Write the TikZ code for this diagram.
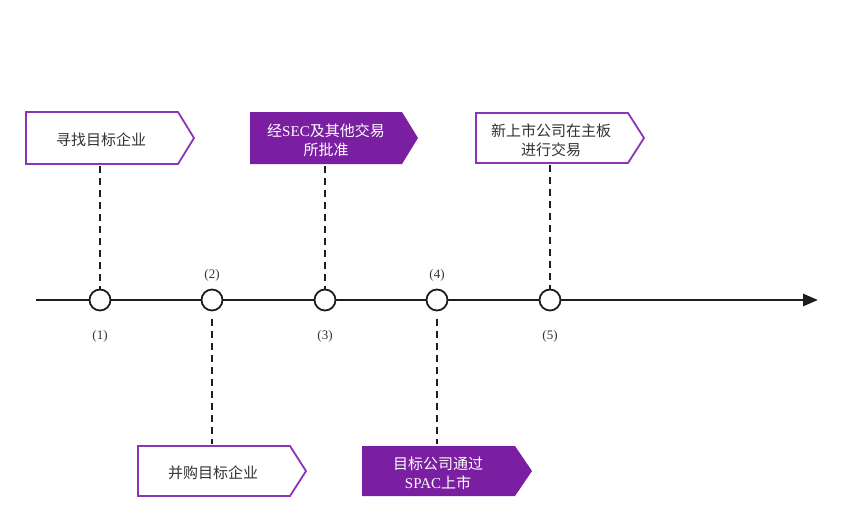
\documentclass[tikz,border=0pt]{standalone}
\usepackage{fontspec}
\setmainfont{Liberation Serif}
\newfontfamily\cjk{Noto Sans CJK SC}
\usetikzlibrary{arrows.meta}
\definecolor{vio}{HTML}{7B1FA2}
\definecolor{violine}{HTML}{8A35B5}
\definecolor{txt}{HTML}{333333}
\definecolor{ink}{HTML}{1E1E1E}
\begin{document}
\begin{tikzpicture}[x=1pt,y=-1pt,
  axisline/.style={line width=2.8pt,draw=ink},
  dot/.style={circle,draw=ink,line width=1.8pt,fill=white,minimum size=21pt,inner sep=0pt},
  guide/.style={line width=1.8pt,dash pattern=on 7pt off 5pt,draw=ink},
  numlbl/.style={font=\fontsize{13}{15}\selectfont,text=txt},
  boxtxt/.style={font=\fontsize{15}{19}\selectfont,align=center}
]
\useasboundingbox (0,0) rectangle (850,523);
% axis
\coordinate (as) at (36,300);
\coordinate (ae) at (818,300);
\draw[axisline,-{Triangle[length=15pt,width=12pt]}] (as) -- (ae);
% dots
\foreach \n/\x in {1/100,2/212,3/325,4/437,5/550}{
  \node[dot] (d\n) at (\x,300) {};
}
\node[numlbl] (l1) at (100,336) {(1)};
\node[numlbl] (l2) at (212,275) {(2)};
\node[numlbl] (l3) at (325,336) {(3)};
\node[numlbl] (l4) at (437,275) {(4)};
\node[numlbl] (l5) at (550,336) {(5)};
% box 1
\draw[violine,line width=1.8pt,fill=white] (26,112) -- (178,112) -- (194,138) -- (178,164) -- (26,164) -- cycle;
\node[boxtxt,text=txt] (b1) at (101,140) {\cjk 寻找目标企业};
% box 2
\fill[vio] (250,112) -- (402,112) -- (418,138) -- (402,164) -- (250,164) -- cycle;
\node[boxtxt,text=white] (b2) at (326,140) {{\cjk 经}SEC{\cjk 及其他交易}\\{\cjk 所批准}};
% box 3
\draw[violine,line width=1.8pt,fill=white] (476,113) -- (628,113) -- (644,138) -- (628,163) -- (476,163) -- cycle;
\node[boxtxt,text=txt] (b3) at (551,140) {{\cjk 新上市公司在主板}\\{\cjk 进行交易}};
% box 4
\draw[violine,line width=1.8pt,fill=white] (138,446) -- (290,446) -- (306,471) -- (290,496) -- (138,496) -- cycle;
\node[boxtxt,text=txt] (b4) at (213,473) {\cjk 并购目标企业};
% box 5
\fill[vio] (362,446) -- (515,446) -- (532,471) -- (515,496) -- (362,496) -- cycle;
\node[boxtxt,text=white] (b5) at (438,473) {{\cjk 目标公司通过}\\SPAC{\cjk 上市}};
% guides
\coordinate (t1) at (100,166);
\coordinate (t3) at (325,166);
\coordinate (t5) at (550,165);
\coordinate (t2) at (212,444);
\coordinate (t4) at (437,444);
\draw[guide] (t1) -- (d1.north);
\draw[guide] (t3) -- (d3.north);
\draw[guide] (t5) -- (d5.north);
\draw[guide] (d2.south) ++(0,8) -- (t2);
\draw[guide] (d4.south) ++(0,8) -- (t4);
\end{tikzpicture}
\end{document}
